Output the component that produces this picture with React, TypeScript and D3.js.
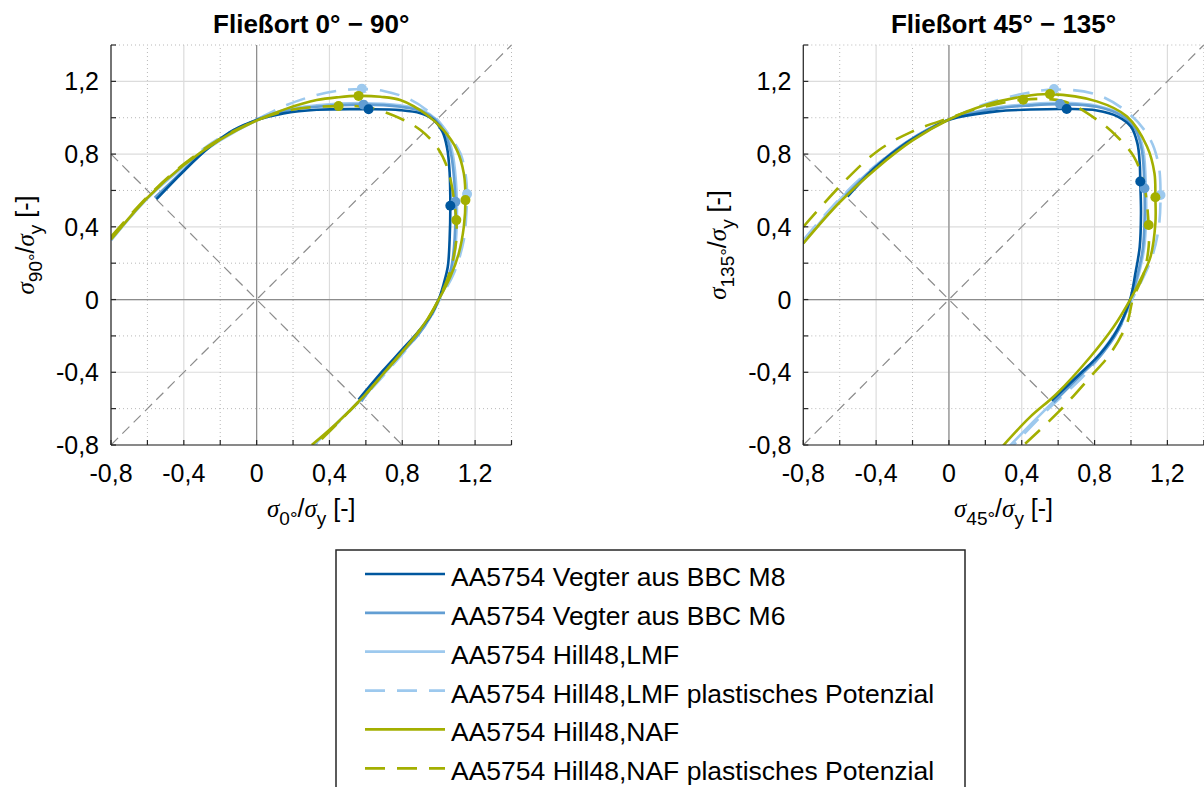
import React from 'react';
import * as d3 from 'd3';

type P = [number, number];

// ---------- axes ----------
const DOMAIN: [number, number] = [-0.8, 1.4];
const TICKS = [-0.8, -0.6, -0.4, -0.2, 0, 0.2, 0.4, 0.6, 0.8, 1.0, 1.2, 1.4];
const MAJOR = [-0.8, -0.4, 0, 0.4, 0.8, 1.2];
const MAJOR_LABELS = ['-0,8', '-0,4', '0', '0,4', '0,8', '1,2'];

const TITLES = ['Fließort 0° − 90°', 'Fließort 45° − 135°'];
const XSUBS = ['0°', '45°'];
const YSUBS = ['90°', '135°'];

const LEGEND_NAMES = [
  'AA5754 Vegter aus BBC M8',
  'AA5754 Vegter aus BBC M6',
  'AA5754 Hill48,LMF',
  'AA5754 Hill48,LMF plastisches Potenzial',
  'AA5754 Hill48,NAF',
  'AA5754 Hill48,NAF plastisches Potenzial',
];

// ---------- left plot (0° - 90°) ----------
const L_M8: P[] = [[-0.55,0.552],[-0.404,0.703],[-0.257,0.84],[-0.128,0.932],[0,0.987],[0.147,1.024],[0.33,1.044],[0.615,1.047],[0.789,1.042],[0.9,1.025],[0.97,0.99],[1.02,0.925],[1.047,0.83],[1.06,0.7],[1.064,0.516],[1.06,0.327],[1.05,0.18],[1.028,0.088],[1.0,0],[0.954,-0.09],[0.885,-0.18],[0.795,-0.28],[0.695,-0.39],[0.56,-0.55]];
const L_M6: P[] = [[-0.56,0.56],[-0.4,0.712],[-0.25,0.848],[0,0.99],[0.15,1.036],[0.33,1.06],[0.587,1.072],[0.79,1.06],[0.91,1.035],[0.98,0.99],[1.035,0.915],[1.068,0.8],[1.085,0.66],[1.092,0.538],[1.088,0.34],[1.07,0.18],[1.04,0.085],[1.0,0],[0.955,-0.095],[0.89,-0.19],[0.8,-0.29],[0.7,-0.4],[0.575,-0.56]];
const L_LMF: P[] = [[-0.8,0.325],[-0.6,0.555],[-0.4,0.73],[-0.2,0.875],[0,0.985],[0.15,1.042],[0.33,1.068],[0.587,1.08],[0.79,1.068],[0.91,1.042],[0.985,0.992],[1.042,0.915],[1.077,0.8],[1.094,0.66],[1.1,0.54],[1.096,0.34],[1.077,0.18],[1.042,0.08],[1.0,0],[0.95,-0.1],[0.87,-0.21],[0.73,-0.375],[0.59,-0.53],[0.44,-0.68],[0.315,-0.8]];
const L_LMF_POT: P[] = [[-0.8,0.327],[-0.6,0.56],[-0.44,0.705],[-0.275,0.842],[-0.13,0.93],[0,0.99],[0.165,1.07],[0.33,1.125],[0.46,1.15],[0.578,1.158],[0.697,1.147],[0.844,1.1],[0.972,1.01],[1.064,0.895],[1.119,0.804],[1.147,0.694],[1.156,0.58],[1.152,0.473],[1.138,0.327],[1.083,0.143],[1.005,0],[0.955,-0.1],[0.875,-0.21],[0.735,-0.375],[0.595,-0.53],[0.445,-0.68],[0.32,-0.8]];
const L_NAF: P[] = [[-0.8,0.33],[-0.6,0.56],[-0.4,0.74],[-0.2,0.88],[0,0.985],[0.165,1.05],[0.33,1.097],[0.45,1.113],[0.56,1.12],[0.68,1.115],[0.789,1.097],[0.936,1.015],[1.028,0.93],[1.1,0.822],[1.138,0.694],[1.147,0.547],[1.138,0.4],[1.11,0.253],[1.064,0.125],[1.0,0],[0.94,-0.105],[0.86,-0.215],[0.72,-0.38],[0.585,-0.535],[0.44,-0.68],[0.303,-0.8]];
const L_NAF_POT: P[] = [[-0.8,0.345],[-0.6,0.565],[-0.4,0.745],[-0.2,0.885],[0,0.985],[0.2,1.045],[0.45,1.064],[0.606,1.058],[0.79,0.996],[0.9,0.932],[0.99,0.84],[1.046,0.73],[1.073,0.62],[1.09,0.5],[1.097,0.437],[1.097,0.327],[1.064,0.161],[1.0,0],[0.945,-0.1],[0.865,-0.21],[0.725,-0.375],[0.59,-0.53],[0.45,-0.675],[0.325,-0.8]];

const L_DOTS_M8: P[] = [[0.615,1.047],[1.064,0.516]];
const L_DOTS_M6: P[] = [[0.587,1.072],[1.092,0.538]];
const L_DOTS_LMF_POT: P[] = [[0.578,1.16],[1.156,0.58]];
const L_DOTS_NAF: P[] = [[0.56,1.12],[1.147,0.547]];
const L_DOTS_NAF_POT: P[] = [[0.45,1.064],[1.097,0.437]];

// ---------- right plot (45° - 135°) ----------
const R_M8: P[] = [[-0.557,0.566],[-0.4,0.73],[-0.235,0.86],[-0.1,0.94],[0,0.989],[0.261,1.035],[0.45,1.045],[0.647,1.048],[0.8125,1.04],[0.93,1.005],[1.0,0.95],[1.035,0.86],[1.048,0.75],[1.051,0.649],[1.055,0.474],[1.048,0.29],[1.024,0.143],[0.995,0],[0.923,-0.169],[0.831,-0.298],[0.72,-0.408],[0.564,-0.555]];
const R_M6: P[] = [[-0.57,0.57],[-0.4,0.735],[-0.235,0.865],[0,0.99],[0.261,1.05],[0.45,1.068],[0.61,1.075],[0.8125,1.06],[0.95,1.01],[1.025,0.935],[1.06,0.82],[1.074,0.612],[1.075,0.45],[1.065,0.28],[1.035,0.13],[0.997,0],[0.93,-0.17],[0.84,-0.3],[0.725,-0.415],[0.575,-0.565]];
const R_LMF: P[] = [[-0.8,0.31],[-0.6,0.55],[-0.4,0.735],[-0.2,0.88],[0,0.99],[0.261,1.056],[0.45,1.075],[0.61,1.082],[0.8125,1.066],[0.95,1.016],[1.03,0.94],[1.068,0.82],[1.082,0.612],[1.083,0.45],[1.072,0.28],[1.04,0.13],[1.0,0],[0.95,-0.12],[0.855,-0.265],[0.71,-0.43],[0.52,-0.615],[0.335,-0.803]];
const R_LMF_POT: P[] = [[-0.8,0.327],[-0.6,0.555],[-0.4,0.74],[-0.2,0.885],[0,0.99],[0.2,1.075],[0.4,1.13],[0.577,1.155],[0.8125,1.127],[0.996,1.017],[1.107,0.879],[1.153,0.732],[1.162,0.575],[1.153,0.4],[1.116,0.235],[1.051,0.088],[1.006,0],[0.96,-0.114],[0.868,-0.261],[0.74,-0.42],[0.537,-0.61],[0.353,-0.803]];
const R_NAF: P[] = [[-0.8,0.309],[-0.6,0.535],[-0.4,0.72],[-0.2,0.875],[0,0.99],[0.2,1.07],[0.4,1.115],[0.555,1.13],[0.8125,1.09],[0.978,1.007],[1.088,0.842],[1.129,0.695],[1.134,0.5625],[1.134,0.419],[1.107,0.235],[1.042,0.088],[0.996,0],[0.904,-0.151],[0.776,-0.316],[0.592,-0.518],[0.445,-0.647],[0.298,-0.803]];
const R_NAF_POT: P[] = [[-0.8,0.4],[-0.566,0.658],[-0.382,0.824],[-0.2,0.925],[0,0.998],[0.169,1.053],[0.408,1.099],[0.629,1.09],[0.8125,0.989],[0.923,0.897],[1.015,0.787],[1.07,0.64],[1.097,0.41],[1.097,0.29],[1.07,0.143],[1.01,0],[0.978,-0.132],[0.886,-0.298],[0.776,-0.426],[0.61,-0.61],[0.408,-0.803]];

const R_DOTS_M8: P[] = [[0.647,1.048],[1.051,0.649]];
const R_DOTS_M6: P[] = [[0.61,1.075],[1.074,0.612]];
const R_DOTS_LMF_POT: P[] = [[0.577,1.158],[1.162,0.575]];
const R_DOTS_NAF: P[] = [[0.555,1.13],[1.134,0.5625]];
const R_DOTS_NAF_POT: P[] = [[0.408,1.099],[1.097,0.41]];

// ---------- styles ----------
const C_M8 = '#00579E';
const C_M6 = '#629ED3';
const C_LMF = '#9DC9EE';
const C_NAF = '#A3AF00';

const FONT = '"Liberation Sans", Arial, Helvetica, sans-serif';
const AX = '#262626';

interface Series {
  name: string;
  color: string;
  dashed: boolean;
  data: P[][];
  dots: (P[] | null)[];
}

const SERIES: Series[] = [
  { name: LEGEND_NAMES[0], color: C_M8, dashed: false, data: [L_M8, R_M8], dots: [L_DOTS_M8, R_DOTS_M8] },
  { name: LEGEND_NAMES[1], color: C_M6, dashed: false, data: [L_M6, R_M6], dots: [L_DOTS_M6, R_DOTS_M6] },
  { name: LEGEND_NAMES[2], color: C_LMF, dashed: false, data: [L_LMF, R_LMF], dots: [null, null] },
  { name: LEGEND_NAMES[3], color: C_LMF, dashed: true, data: [L_LMF_POT, R_LMF_POT], dots: [L_DOTS_LMF_POT, R_DOTS_LMF_POT] },
  { name: LEGEND_NAMES[4], color: C_NAF, dashed: false, data: [L_NAF, R_NAF], dots: [L_DOTS_NAF, R_DOTS_NAF] },
  { name: LEGEND_NAMES[5], color: C_NAF, dashed: true, data: [L_NAF_POT, R_NAF_POT], dots: [L_DOTS_NAF_POT, R_DOTS_NAF_POT] },
];
// drawing order (back to front)
const DRAW_ORDER = [3, 2, 1, 0, 5, 4];

const PANELS = [
  { x0: 111, x1: 511.5 },
  { x0: 803.3, x1: 1203.8 },
];
const Y0 = 445;
const Y1 = 45;

function Panel({ idx }: { idx: number }) {
  const { x0, x1 } = PANELS[idx];
  const x = d3.scaleLinear().domain(DOMAIN).range([x0, x1]);
  const y = d3.scaleLinear().domain(DOMAIN).range([Y0, Y1]);
  const line = d3
    .line<P>()
    .x((d) => x(d[0]))
    .y((d) => y(d[1]))
    .curve(d3.curveCatmullRom.alpha(0.5));
  const clipId = `clip${idx}`;
  const cx = (x0 + x1) / 2;
  const cy = (Y0 + Y1) / 2;
  const majorSet = new Set(MAJOR.map((v) => v.toFixed(1)));
  return (
    <g>
      <defs>
        <clipPath id={clipId}>
          <rect x={x0} y={Y1 - 1} width={x1 - x0 + 1} height={Y0 - Y1 + 1} />
        </clipPath>
      </defs>
      {/* grid */}
      {TICKS.map((t) => {
        const major = majorSet.has(t.toFixed(1));
        return (
          <g key={'g' + t}>
            <line x1={x(t)} x2={x(t)} y1={Y0} y2={Y1} stroke={major ? '#dcdcdc' : '#b8b8b8'} strokeWidth={major ? 1.2 : 1} strokeDasharray={major ? undefined : '1,3'} />
            <line x1={x0} x2={x1} y1={y(t)} y2={y(t)} stroke={major ? '#dcdcdc' : '#b8b8b8'} strokeWidth={major ? 1.2 : 1} strokeDasharray={major ? undefined : '1,3'} />
          </g>
        );
      })}
      {/* zero lines */}
      <line x1={x(0)} x2={x(0)} y1={Y0} y2={Y1} stroke="#8c8c8c" strokeWidth={1.2} />
      <line x1={x0} x2={x1} y1={y(0)} y2={y(0)} stroke="#8c8c8c" strokeWidth={1.2} />
      {/* diagonals */}
      <line x1={x(-0.8)} y1={y(-0.8)} x2={x(1.4)} y2={y(1.4)} stroke="#8c8c8c" strokeWidth={1.2} strokeDasharray="10,6" />
      <line x1={x(-0.8)} y1={y(0.8)} x2={x(0.8)} y2={y(-0.8)} stroke="#8c8c8c" strokeWidth={1.2} strokeDasharray="10,6" />
      {/* curves */}
      <g clipPath={`url(#${clipId})`}>
        {DRAW_ORDER.map((si) => {
          const s = SERIES[si];
          return (
            <path key={'c' + si} d={line(s.data[idx]) || ''} fill="none" stroke={s.color} strokeWidth={2.6} strokeLinejoin="round" strokeDasharray={s.dashed ? '20,12' : undefined} />
          );
        })}
        {DRAW_ORDER.map((si) => {
          const s = SERIES[si];
          const dots = s.dots[idx];
          if (!dots) return null;
          return dots.map((d, k) => <circle key={'d' + si + '_' + k} cx={x(d[0])} cy={y(d[1])} r={5} fill={s.color} />);
        })}
      </g>
      {/* axes */}
      <line x1={x0} x2={x1} y1={Y0} y2={Y0} stroke={AX} strokeWidth={1.2} />
      <line x1={x0} x2={x0} y1={Y0} y2={Y1} stroke={AX} strokeWidth={1.2} />
      {TICKS.map((t) => (
        <g key={'t' + t}>
          <line x1={x(t)} x2={x(t)} y1={Y0} y2={Y0 - 5} stroke={AX} strokeWidth={1.2} />
          <line x1={x0} x2={x0 + 5} y1={y(t)} y2={y(t)} stroke={AX} strokeWidth={1.2} />
        </g>
      ))}
      {MAJOR.map((t, i) => (
        <text key={'xl' + t} x={x(t)} y={482} textAnchor="middle" fontSize={25} fontFamily={FONT} fill="#000">
          {MAJOR_LABELS[i]}
        </text>
      ))}
      {MAJOR.map((t, i) => (
        <text key={'yl' + t} x={x0 - 12} y={y(t)} dy="0.36em" textAnchor="end" fontSize={25} fontFamily={FONT} fill="#000">
          {MAJOR_LABELS[i]}
        </text>
      ))}
      {/* title */}
      <text x={cx} y={33} textAnchor="middle" fontSize={26} fontWeight="bold" fontFamily={FONT} fill="#000">
        {TITLES[idx]}
      </text>
      {/* x label */}
      <text x={cx} y={517} textAnchor="middle" fontSize={25} fontFamily={FONT} fill="#000">
        <tspan fontStyle="italic" fontFamily='"Liberation Serif", serif'>σ</tspan>
        <tspan fontSize={19} dy={8}>{XSUBS[idx]}</tspan>
        <tspan dy={-8}>/</tspan>
        <tspan fontStyle="italic" fontFamily='"Liberation Serif", serif'>σ</tspan>
        <tspan fontSize={19} dy={8}>y</tspan>
        <tspan dy={-8}> [-]</tspan>
      </text>
      {/* y label */}
      <text transform={`translate(${x0 - 77},${cy}) rotate(-90)`} textAnchor="middle" fontSize={25} fontFamily={FONT} fill="#000">
        <tspan fontStyle="italic" fontFamily='"Liberation Serif", serif'>σ</tspan>
        <tspan fontSize={19} dy={8}>{YSUBS[idx]}</tspan>
        <tspan dy={-8}>/</tspan>
        <tspan fontStyle="italic" fontFamily='"Liberation Serif", serif'>σ</tspan>
        <tspan fontSize={19} dy={8}>y</tspan>
        <tspan dy={-8}> [-]</tspan>
      </text>
    </g>
  );
}

function Legend() {
  const left = 336;
  const top = 550;
  const rowY = d3.scaleLinear().domain([0, 5]).range([574, 768.3]);
  return (
    <g>
      <rect x={left} y={top} width={965 - left} height={260} fill="#fff" stroke={AX} strokeWidth={1.5} />
      {SERIES.map((s, i) => (
        <g key={'lg' + i}>
          <line x1={365} x2={445} y1={rowY(i)} y2={rowY(i)} stroke={s.color} strokeWidth={2.7} strokeDasharray={s.dashed ? '20,12' : undefined} />
          <text x={451} y={rowY(i) + 12} fontSize={26.5} fontFamily={FONT} fill="#000">
            {s.name}
          </text>
        </g>
      ))}
    </g>
  );
}

export default function App() {
  return (
    <svg width={1204} height={787} style={{ position: 'absolute', left: 0, top: 0, background: '#fff' }}>
      <rect x={0} y={0} width={1204} height={787} fill="#fff" />
      <Panel idx={0} />
      <Panel idx={1} />
      <Legend />
    </svg>
  );
}
